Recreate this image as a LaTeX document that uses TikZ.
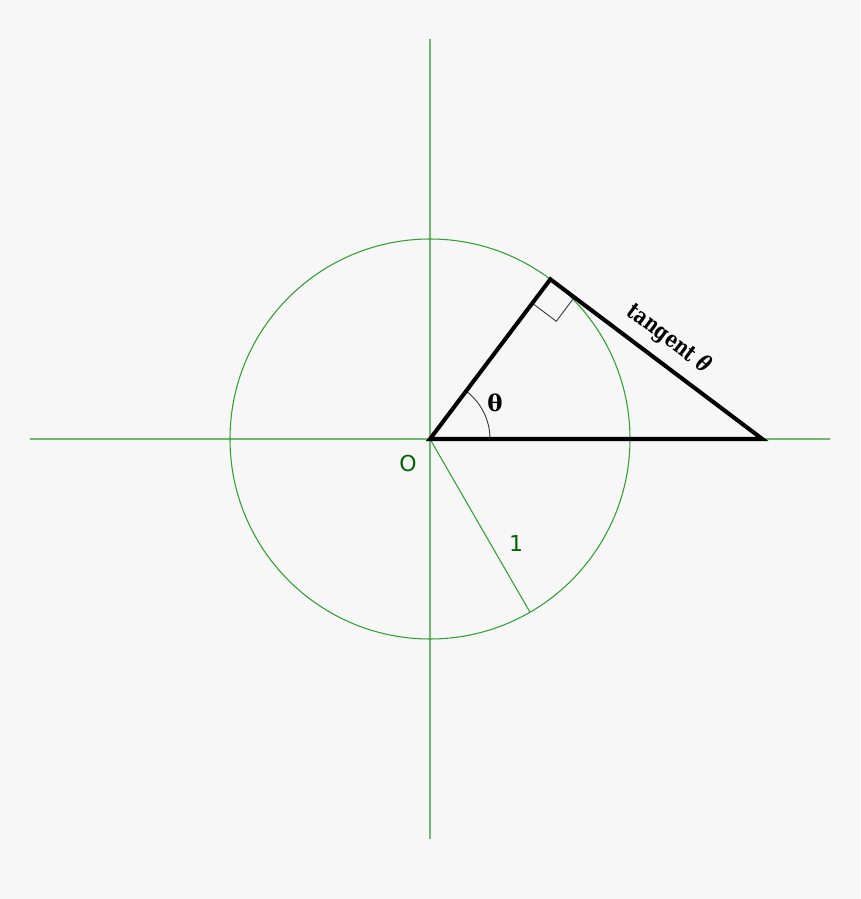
\documentclass[tikz,border=0pt]{standalone}
\usepackage{fontspec}
\setmainfont{DejaVu Serif}
\newfontfamily\labsans{DejaVu Sans}
\newfontfamily\condserif[FakeStretch=0.8]{DejaVu Serif}
\usetikzlibrary{calc}
\definecolor{bg}{HTML}{F7F7F7}
\definecolor{axisgreen}{HTML}{70B870}
\definecolor{circgreen}{HTML}{30A030}
\definecolor{txtgreen}{HTML}{006400}
\begin{document}
\begin{tikzpicture}[
  axis/.style={draw=axisgreen, line width=1.1pt},
  circ/.style={draw=circgreen, line width=0.6pt},
  tri/.style={draw=black, line width=2.3pt, line join=miter},
  thin mark/.style={draw=black!80, line width=0.5pt},
  greenlab/.style={text=txtgreen, font=\labsans\fontsize{12.5}{14}\selectfont, inner sep=0pt},
  blacklab/.style={text=black, font=\condserif\bfseries\fontsize{13}{15}\selectfont, inner sep=0pt}
]
\fill[bg] (-8.6,-9.2) rectangle (8.6,8.78);
\useasboundingbox (-8.6,-9.2) rectangle (8.6,8.78);
\coordinate (O) at (0,0);
\coordinate (T) at (53:4);
\coordinate (X) at ({4/cos(53)},0);
\coordinate (R) at (-60:4);
\coordinate (xl) at (-8,0);
\coordinate (xr) at (8,0);
\coordinate (yb) at (0,-8);
\coordinate (yt) at (0,8);
% axes
\draw[axis] (xl) -- (xr);
\draw[axis] (yb) -- (yt);
% unit circle
\draw[circ] (O) circle (4);
% radius 1
\draw[circ] (O) -- (R);
% angle arc
\draw[thin mark] (0.3*4,0) arc (0:53:1.2);
% right angle mark
\coordinate (ma) at ($(T)!0.6cm!(O)$);
\coordinate (mb) at ($(T)!0.6cm!(X)$);
\draw[thin mark] (ma) -- ($(ma)+(mb)-(T)$) -- (mb);
% triangle
\draw[tri] (O) -- (T) -- (X) -- cycle;
% labels
\node[greenlab] (lo) at (-0.44,-0.5) {O};
\node[greenlab] (l1) at (1.72,-2.08) {1};
\node[text=black, inner sep=0pt, font=\bfseries\fontsize{13}{15}\selectfont] (lth) at (1.3,0.72) {θ};
\node[blacklab, rotate=-37] (ltan) at (4.78,2.0) {tangent \textit{θ}};
\end{tikzpicture}
\end{document}
